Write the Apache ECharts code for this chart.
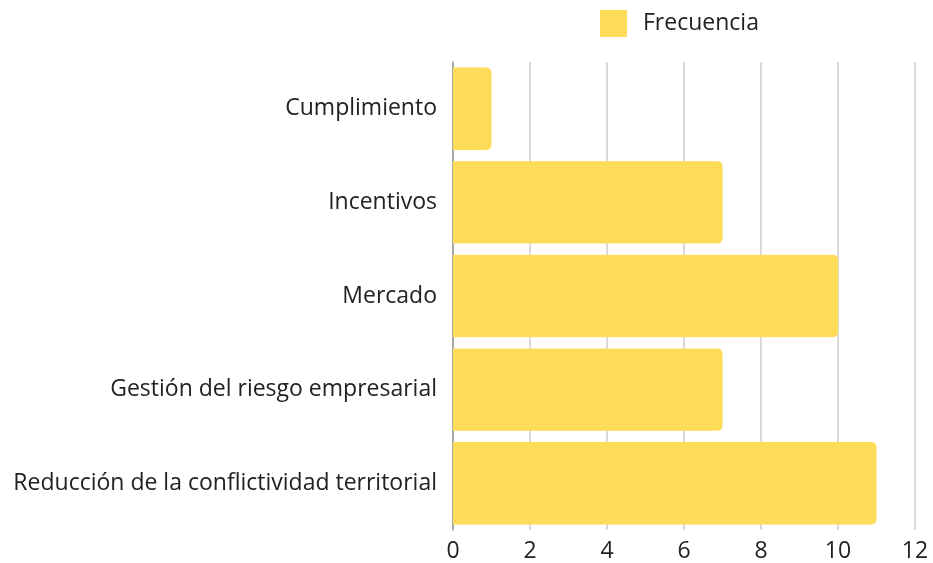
<!DOCTYPE html>
<html>
<head>
<meta charset="utf-8">
<script src="https://cdn.jsdelivr.net/npm/echarts@6/dist/echarts.min.js"></script>
<style>
  html, body { margin: 0; padding: 0; background: #fff; }
  #chart { width: 933px; height: 563px; }
</style>
</head>
<body>
<div id="chart"></div>
<script>
const categories = ['Cumplimiento', 'Incentivos', 'Mercado', 'Gestión del riesgo empresarial', 'Reducción de la conflictividad territorial'];
const frecuencia = [1, 7, 10, 7, 11];
const xTicks = { min: 0, max: 12, interval: 2 };

const chart = echarts.init(document.getElementById('chart'));
chart.setOption({
  textStyle: { fontFamily: 'Open Sans' },
  legend: {
    left: 595,
    top: 5,
    itemWidth: 27,
    itemHeight: 27,
    itemGap: 16,
    icon: 'rect',
    textStyle: { fontSize: 23, color: '#222', fontFamily: 'Open Sans', padding: [0, 0, 0, 11] },
    data: ['Frecuencia']
  },
  grid: { left: 453, right: 18, top: 62, bottom: 32, containLabel: false },
  xAxis: {
    type: 'value',
    min: xTicks.min,
    max: xTicks.max,
    interval: xTicks.interval,
    axisLine: { show: false },
    axisTick: { show: false },
    axisLabel: { color: '#222', fontSize: 23, margin: 10, fontFamily: 'Open Sans' },
    splitLine: { show: true, lineStyle: { color: '#cccccc', width: 1.5 } }
  },
  yAxis: {
    type: 'category',
    inverse: true,
    data: categories,
    axisLine: { show: true, lineStyle: { color: '#999', width: 1.5 } },
    axisTick: { show: false },
    axisLabel: { color: '#222', fontSize: 23, margin: 16, fontFamily: 'Open Sans' }
  },
  series: [{
    name: 'Frecuencia',
    type: 'bar',
    data: frecuencia,
    barCategoryGap: '12%',
    itemStyle: { color: '#FEDC58', borderRadius: [0, 5, 5, 0] }
  }]
});
</script>
</body>
</html>
